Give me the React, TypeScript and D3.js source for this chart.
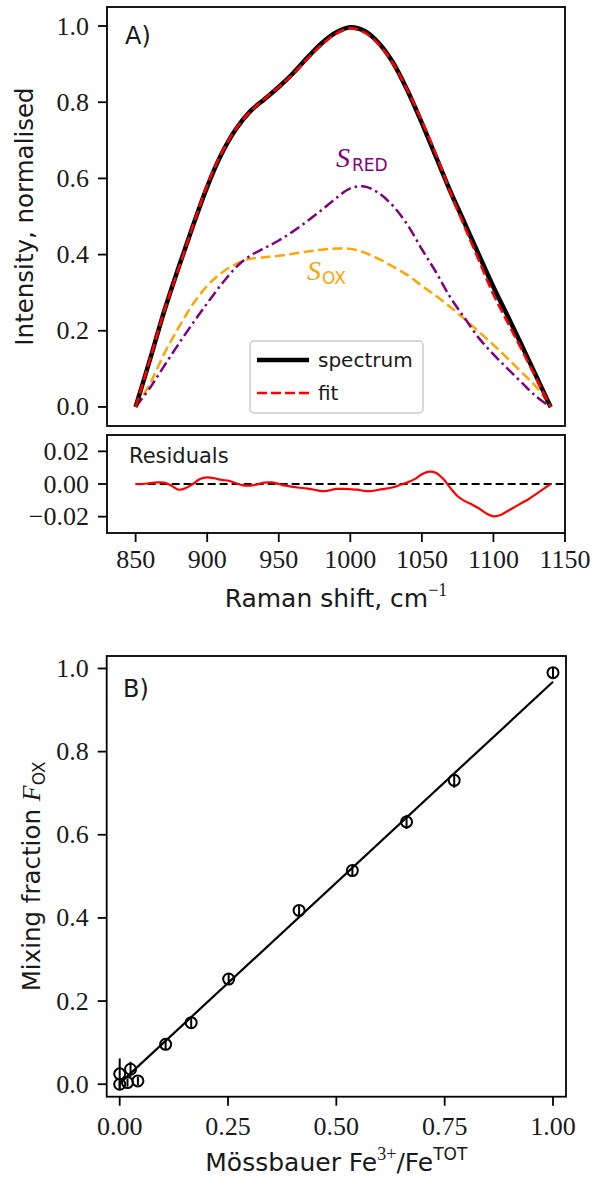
import React from 'react';
import * as d3 from 'd3';

// ---------- Panel A data ----------
const ramanShift = [850, 860, 870, 880, 890, 900, 910, 920, 930, 940, 950, 960, 970, 980, 990, 1000, 1010, 1020, 1030, 1040, 1050, 1060, 1070, 1080, 1090, 1100, 1110, 1120, 1130, 1140];
const spectrum = [0, 0.124, 0.252, 0.366, 0.475, 0.578, 0.664, 0.729, 0.776, 0.808, 0.84, 0.876, 0.917, 0.955, 0.983, 0.997, 0.987, 0.955, 0.903, 0.83, 0.745, 0.655, 0.565, 0.482, 0.398, 0.315, 0.238, 0.16, 0.08, 0];
const fit = [0, 0.1245, 0.2528, 0.3625, 0.475, 0.582, 0.6665, 0.7295, 0.775, 0.8088, 0.84, 0.8742, 0.9142, 0.9506, 0.98, 0.9938, 0.9828, 0.9515, 0.901, 0.831, 0.751, 0.6618, 0.5625, 0.4715, 0.383, 0.2952, 0.2215, 0.1485, 0.074, 0];
const sRed = [0, 0.05, 0.108, 0.165, 0.22, 0.272, 0.322, 0.366, 0.397, 0.417, 0.437, 0.461, 0.488, 0.517, 0.548, 0.574, 0.579, 0.561, 0.527, 0.478, 0.414, 0.353, 0.287, 0.233, 0.18, 0.138, 0.1, 0.063, 0.027, 0];
const sOx = [0, 0.061, 0.14, 0.208, 0.27, 0.318, 0.352, 0.375, 0.389, 0.393, 0.397, 0.402, 0.408, 0.413, 0.416, 0.415, 0.405, 0.388, 0.368, 0.346, 0.318, 0.291, 0.262, 0.23, 0.197, 0.163, 0.127, 0.09, 0.052, 0];

const residualShift = [850, 855, 860, 865, 870, 875, 880, 885, 890, 895, 900, 905, 910, 915, 920, 925, 930, 935, 940, 945, 950, 955, 960, 965, 970, 975, 980, 985, 990, 995, 1000, 1005, 1010, 1015, 1020, 1025, 1030, 1035, 1040, 1045, 1050, 1055, 1060, 1065, 1070, 1075, 1080, 1085, 1090, 1095, 1100, 1105, 1110, 1115, 1120, 1125, 1130, 1135, 1140];
const residual = [0, 0, 0.0005, 0.001, 0.0008, -0.001, -0.0035, -0.0025, 0, 0.003, 0.004, 0.0035, 0.0025, 0.002, 0.0005, -0.0008, -0.001, -0.0002, 0.0008, 0.001, 0, -0.001, -0.0018, -0.0023, -0.0028, -0.0035, -0.0044, -0.004, -0.003, -0.003, -0.0032, -0.0035, -0.0042, -0.0043, -0.0035, -0.0028, -0.002, -0.0005, 0.001, 0.003, 0.006, 0.0076, 0.0068, 0.003, -0.0025, -0.0075, -0.0105, -0.0125, -0.015, -0.018, -0.0198, -0.019, -0.0165, -0.014, -0.0115, -0.009, -0.006, -0.003, 0];

const xTicksA = [850, 900, 950, 1000, 1050, 1100, 1150];
const yTicksA = [0, 0.2, 0.4, 0.6, 0.8, 1.0];
const yTicksR = [-0.02, 0, 0.02];
const yTickLabelsR = ['\u22120.02', '0.00', '0.02'];

// ---------- Panel B data ----------
const mossbauer = [0, 0, 0.018, 0.025, 0.042, 0.106, 0.165, 0.2515, 0.414, 0.537, 0.662, 0.772, 1.0];
const fOx = [0, 0.025, 0.004, 0.036, 0.008, 0.096, 0.148, 0.253, 0.418, 0.514, 0.631, 0.731, 0.99];
const fOxErr = [0.012, 0.037, 0.01, 0.018, 0.01, 0.013, 0.013, 0.013, 0.013, 0.013, 0.017, 0.018, 0.013];
const fitLineX = [0, 1];
const fitLineY = [0.002, 0.968];
const xTicksB = [0, 0.25, 0.5, 0.75, 1.0];
const yTicksB = [0, 0.2, 0.4, 0.6, 0.8, 1.0];

const SERIF = "'Liberation Serif', 'DejaVu Serif', serif";
const SANS = "'DejaVu Sans', 'Liberation Sans', sans-serif";
const TXT = '#1a1a1a';

export default function App() {
  // Panel A scales
  const xA = d3.scaleLinear().domain([830, 1150]).range([107, 565]);
  const yA = d3.scaleLinear().domain([-0.05, 1.05]).range([426, 7]);
  const yR = d3.scaleLinear().domain([-0.03, 0.03]).range([533, 435]);
  // Panel B scales
  const xB = d3.scaleLinear().domain([-0.03, 1.03]).range([106.7, 566]);
  const yB = d3.scaleLinear().domain([-0.03, 1.03]).range([1096.7, 656]);

  const curve = d3.curveCatmullRom.alpha(0.5);
  const lineA = (ys: number[]) =>
    d3.line<number>().x((_, i) => xA(ramanShift[i])).y((d) => yA(d)).curve(curve)(ys) || '';
  const resPath =
    d3.line<number>().x((_, i) => xA(residualShift[i])).y((d) => yR(d)).curve(curve)(residual) || '';
  const fitLinePath =
    d3.line<number>().x((_, i) => xB(fitLineX[i])).y((d) => yB(d))(fitLineY) || '';

  const tickLen = 9;
  const spineW = 1.8;

  const [a0, a1] = xA.range();
  const [yAb, yAt] = yA.range();
  const [yRb, yRt] = yR.range();
  const [b0, b1] = xB.range();
  const [yBb, yBt] = yB.range();

  return (
    <svg
      width={592}
      height={1184}
      style={{ position: 'absolute', left: 0, top: 0, background: '#fff' }}
    >
      <rect x={0} y={0} width={592} height={1184} fill="#fff" />

      {/* ================= Panel A ================= */}
      <defs>
        <clipPath id="clipA">
          <rect x={a0} y={yAt} width={a1 - a0} height={yAb - yAt} />
        </clipPath>
        <clipPath id="clipR">
          <rect x={a0} y={yRt} width={a1 - a0} height={yRb - yRt} />
        </clipPath>
      </defs>

      <g clipPath="url(#clipA)">
        <path d={lineA(sOx)} fill="none" stroke="#FFA500" strokeWidth={2.5} strokeDasharray="10,4.5" />
        <path d={lineA(sRed)} fill="none" stroke="#800080" strokeWidth={2.5} strokeDasharray="11,4,2.5,4" />
        <path d={lineA(spectrum)} fill="none" stroke="#000" strokeWidth={4.5} />
        <path d={lineA(fit)} fill="none" stroke="#ff0000" strokeWidth={2.6} strokeDasharray="10,4" />
      </g>

      {/* curve labels */}
      <text x={336} y={166.7} fill="#800080" fontFamily={SERIF} fontStyle="italic" fontSize={28}>
        S
      </text>
      <text x={352} y={171} fill="#800080" fontFamily={SANS} fontSize={17}>
        RED
      </text>
      <text x={307} y={280} fill="#FFA500" fontFamily={SERIF} fontStyle="italic" fontSize={28}>
        S
      </text>
      <text x={322} y={284} fill="#FFA500" fontFamily={SANS} fontSize={17}>
        OX
      </text>

      {/* legend */}
      <rect x={250} y={341} width={173} height={72} rx={4} fill="#fff" fillOpacity={0.85} stroke="#cccccc" strokeWidth={1.5} />
      <line x1={257} x2={309} y1={360} y2={360} stroke="#000" strokeWidth={4.5} />
      <line x1={257} x2={309} y1={393} y2={393} stroke="#ff0000" strokeWidth={2.6} strokeDasharray="10,4" />
      <text x={318} y={367} fontFamily={SANS} fontSize={20} fill={TXT}>
        spectrum
      </text>
      <text x={318} y={400} fontFamily={SANS} fontSize={20} fill={TXT}>
        fit
      </text>

      <text x={125} y={44} fontFamily={SANS} fontSize={24} fill={TXT}>
        A)
      </text>

      {/* frame A */}
      <rect x={a0} y={yAt} width={a1 - a0} height={yAb - yAt} fill="none" stroke="#000" strokeWidth={spineW} />
      {yTicksA.map((t) => (
        <g key={'ya' + t}>
          <line x1={a0 - tickLen} x2={a0} y1={yA(t)} y2={yA(t)} stroke="#000" strokeWidth={spineW} />
          <text x={a0 - 18} y={yA(t) + 8.5} textAnchor="end" fontFamily={SERIF} fontSize={26} fill={TXT}>
            {t.toFixed(1)}
          </text>
        </g>
      ))}
      <text
        transform={`translate(33, ${(yAt + yAb) / 2}) rotate(-90)`}
        textAnchor="middle"
        fontFamily={SANS}
        fontSize={24.5}
        fill={TXT}
      >
        Intensity, normalised
      </text>

      {/* ================= Residuals ================= */}
      <line x1={xA(850)} x2={xA(1150)} y1={yR(0)} y2={yR(0)} stroke="#000" strokeWidth={1.8} strokeDasharray="8,4" />
      <g clipPath="url(#clipR)">
        <path d={resPath} fill="none" stroke="#ff0000" strokeWidth={2.2} />
      </g>
      <text x={129} y={463} fontFamily={SANS} fontSize={21} fill={TXT}>
        Residuals
      </text>
      <rect x={a0} y={yRt} width={a1 - a0} height={yRb - yRt} fill="none" stroke="#000" strokeWidth={spineW} />
      {yTicksR.map((t, i) => (
        <g key={'yr' + t}>
          <line x1={a0 - tickLen} x2={a0} y1={yR(t)} y2={yR(t)} stroke="#000" strokeWidth={spineW} />
          <text x={a0 - 18} y={yR(t) + 8.5} textAnchor="end" fontFamily={SERIF} fontSize={26} fill={TXT}>
            {yTickLabelsR[i]}
          </text>
        </g>
      ))}
      {xTicksA.map((t) => (
        <g key={'xa' + t}>
          <line x1={xA(t)} x2={xA(t)} y1={yRb} y2={yRb + tickLen} stroke="#000" strokeWidth={spineW} />
          <text x={xA(t)} y={568} textAnchor="middle" fontFamily={SERIF} fontSize={26} fill={TXT}>
            {t}
          </text>
        </g>
      ))}
      <text x={(a0 + a1) / 2} y={607} textAnchor="middle" fontFamily={SANS} fontSize={25} fill={TXT}>
        Raman shift, cm
        <tspan dy={-11} fontFamily={SERIF} fontSize={18}>
          {'\u22121'}
        </tspan>
      </text>

      {/* ================= Panel B ================= */}
      <path d={fitLinePath} fill="none" stroke="#000" strokeWidth={2.2} />
      {mossbauer.map((m, i) => (
        <g key={'pt' + i}>
          <line
            x1={xB(m)}
            x2={xB(m)}
            y1={yB(fOx[i] - fOxErr[i])}
            y2={yB(fOx[i] + fOxErr[i])}
            stroke="#000"
            strokeWidth={2}
          />
          <circle cx={xB(m)} cy={yB(fOx[i])} r={5.5} fill="none" stroke="#000" strokeWidth={2} />
        </g>
      ))}
      <text x={123} y={697} fontFamily={SANS} fontSize={24} fill={TXT}>
        B)
      </text>
      <rect x={b0} y={yBt} width={b1 - b0} height={yBb - yBt} fill="none" stroke="#000" strokeWidth={spineW} />
      {yTicksB.map((t) => (
        <g key={'yb' + t}>
          <line x1={b0 - tickLen} x2={b0} y1={yB(t)} y2={yB(t)} stroke="#000" strokeWidth={spineW} />
          <text x={b0 - 18} y={yB(t) + 8.5} textAnchor="end" fontFamily={SERIF} fontSize={26} fill={TXT}>
            {t.toFixed(1)}
          </text>
        </g>
      ))}
      {xTicksB.map((t) => (
        <g key={'xb' + t}>
          <line x1={xB(t)} x2={xB(t)} y1={yBb} y2={yBb + tickLen} stroke="#000" strokeWidth={spineW} />
          <text x={xB(t)} y={1135} textAnchor="middle" fontFamily={SERIF} fontSize={26} fill={TXT}>
            {t.toFixed(2)}
          </text>
        </g>
      ))}
      <text
        transform={`translate(40, ${(yBt + yBb) / 2}) rotate(-90)`}
        textAnchor="middle"
        fontFamily={SANS}
        fontSize={24.5}
        fill={TXT}
      >
        Mixing fraction{' '}
        <tspan fontFamily={SERIF} fontStyle="italic" fontSize={26}>
          F
        </tspan>
        <tspan dy={5} fontSize={17}>
          OX
        </tspan>
      </text>
      <text x={(b0 + b1) / 2} y={1171} textAnchor="middle" fontFamily={SANS} fontSize={25} fill={TXT}>
        Mössbauer Fe
        <tspan dy={-11} fontFamily={SERIF} fontSize={18}>
          3+
        </tspan>
        <tspan dy={11}>/Fe</tspan>
        <tspan dy={-11} fontSize={17}>
          TOT
        </tspan>
      </text>
    </svg>
  );
}
